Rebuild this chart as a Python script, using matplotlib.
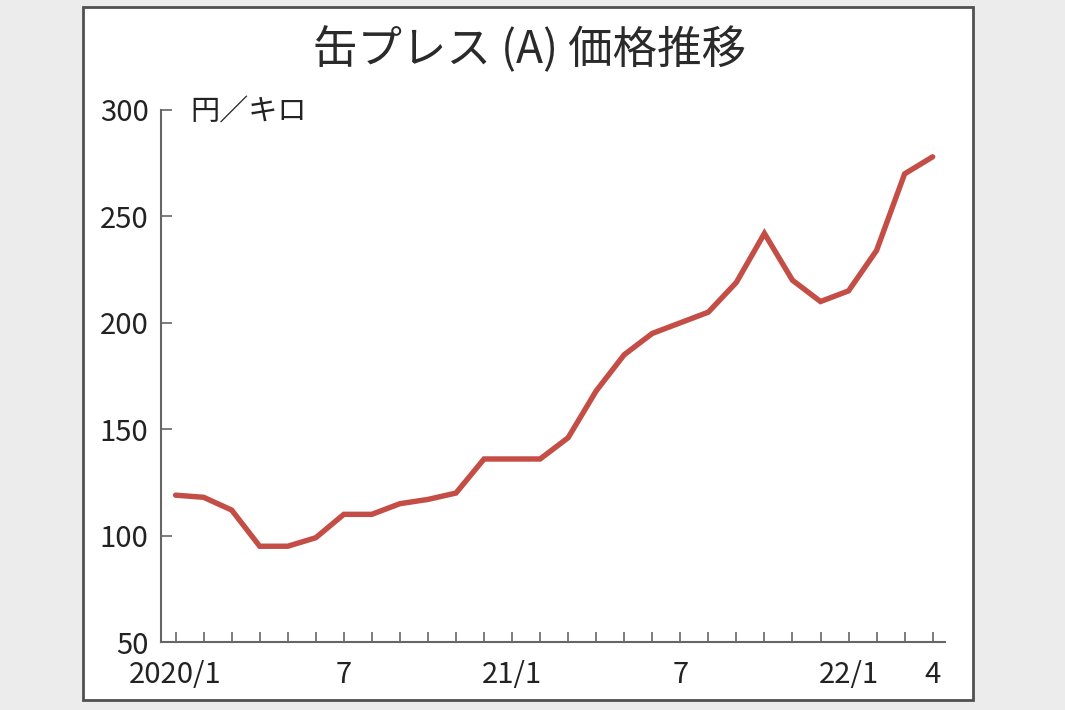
import matplotlib
matplotlib.use("Agg")
import matplotlib.pyplot as plt
from matplotlib.patches import Rectangle

plt.rcParams['font.family'] = ['Noto Sans CJK JP', 'DejaVu Sans']

# monthly price, 2020/1 .. 2022/4 (yen per kg)
prices = [119, 118, 112, 95, 95, 99, 110, 110, 115, 117, 120, 136,
          136, 136, 146, 168, 185, 195, 200, 205, 219, 242, 220, 210,
          215, 234, 270, 278]
month_labels = ["2020/1", "", "", "", "", "", "7", "", "", "", "", "",
                "21/1", "", "", "", "", "", "7", "", "", "", "", "",
                "22/1", "", "", "4"]
y_ticks = [50, 100, 150, 200, 250, 300]

title = "缶プレス (A) 価格推移"
unit = "円／キロ"

line_color = "#c44d46"
axis_color = "#666666"

fig = plt.figure(figsize=(10.65, 7.1), dpi=100)
fig.patch.set_facecolor("#ececec")

# white panel with border, behind the axes
panel = Rectangle((83 / 1065, 1 - 700 / 710), (973 - 83) / 1065, (700 - 7) / 710,
                  transform=fig.transFigure, facecolor="white",
                  edgecolor="#505050", linewidth=2, zorder=-1)
fig.add_artist(panel)

ax = fig.add_axes([161 / 1065, 1 - 642 / 710, (945 - 161) / 1065, (642 - 110) / 710])
ax.set_facecolor("none")

x = list(range(len(prices)))
ax.plot(x, prices, color=line_color, linewidth=3.9, solid_joinstyle="miter",
        solid_capstyle="round", zorder=3)

ax.set_xlim(-0.52, 27.44)
ax.set_ylim(50, 300)

ax.set_xticks(x, labels=month_labels)
ax.set_yticks(y_ticks)

for s in ["top", "right"]:
    ax.spines[s].set_visible(False)
for s in ["left", "bottom"]:
    ax.spines[s].set_color(axis_color)
    ax.spines[s].set_linewidth(1.5)

ax.tick_params(axis="x", direction="in", length=7, width=1.2, color=axis_color,
               labelsize=21, pad=13, labelcolor="#222222")
ax.tick_params(axis="y", direction="in", length=8, width=1.2, color=axis_color,
               labelsize=21, pad=9, labelcolor="#222222")

fig.text(530 / 1065, 1 - 50 / 710, title, ha="center", va="center",
         fontsize=32, color="#2a2a2a")
fig.text(190 / 1065, 1 - 112 / 710, unit, ha="left", va="center",
         fontsize=21, color="#222222")

fig.savefig("out.png", dpi=100, facecolor=fig.get_facecolor())
